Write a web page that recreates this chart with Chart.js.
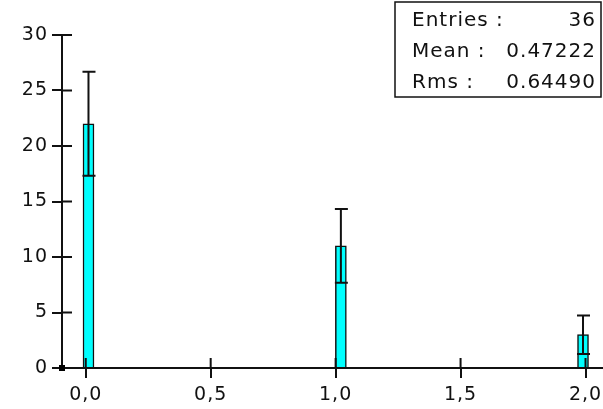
<!DOCTYPE html>
<html>
<head>
<meta charset="utf-8">
<script src="https://cdn.jsdelivr.net/npm/chart.js@4.4.0/dist/chart.umd.min.js"></script>
<style>
  html, body { margin: 0; padding: 0; background: #fff; }
  #wrap { width: 603px; height: 409px; }
</style>
</head>
<body>
<div id="wrap"><canvas id="hist"></canvas></div>
<script>
// histogram bins
const binCenters = [0.011, 1.021, 1.99]
const counts = [22, 11, 3]
const errors = [4.69, 3.32, 1.73]

// axis ranges and ticks
const xMin = -0.095
const xMax = 2.07
const yTicks = [0, 5, 10, 15, 20, 25, 30]

// statistics box
const statLabels = ['Entries :', 'Mean :', 'Rms :']
const statValues = ['36', '0.47222', '0.64490']

const AXIS = '#111'
const FONT = "'DejaVu Sans', sans-serif"

// slightly looser spacing for the tick labels
const wideText = {
  id: 'wideText',
  beforeDraw(chart) {
    chart.ctx.letterSpacing = '1px'
  },
  afterDraw(chart) {
    chart.ctx.letterSpacing = '0px'
  }
}

// tick marks cross the axis line, so draw the inner half too
const innerTicks = {
  id: 'innerTicks',
  afterDraw(chart) {
    const { ctx, scales: { x, y } } = chart
    ctx.save()
    ctx.strokeStyle = AXIS
    ctx.lineWidth = 2
    ctx.beginPath()
    x.ticks.forEach(t => {
      const px = x.getPixelForValue(t.value)
      ctx.moveTo(px, y.bottom)
      ctx.lineTo(px, y.bottom - 10)
    })
    y.ticks.forEach(t => {
      const py = y.getPixelForValue(t.value)
      ctx.moveTo(x.left, py)
      ctx.lineTo(x.left + 10, py)
    })
    ctx.stroke()
    // origin marker
    ctx.fillStyle = '#000'
    ctx.fillRect(x.getPixelForValue(x.min) - 3, y.getPixelForValue(0) - 3, 6, 6)
    ctx.restore()
  }
}

const errorBars = {
  id: 'errorBars',
  afterDatasetsDraw(chart) {
    const { ctx, scales: { x, y } } = chart
    ctx.save()
    ctx.strokeStyle = AXIS
    ctx.lineWidth = 2
    ctx.beginPath()
    binCenters.forEach((c, i) => {
      const px = x.getPixelForValue(c)
      const top = y.getPixelForValue(counts[i] + errors[i])
      const bot = y.getPixelForValue(counts[i] - errors[i])
      ctx.moveTo(px, top)
      ctx.lineTo(px, bot)
      ctx.moveTo(px - 6, top)
      ctx.lineTo(px + 7, top)
      ctx.moveTo(px - 6, bot)
      ctx.lineTo(px + 7, bot)
    })
    ctx.stroke()
    ctx.restore()
  }
}

const statsBox = {
  id: 'statsBox',
  afterDraw(chart) {
    const { ctx } = chart
    ctx.save()
    ctx.letterSpacing = '1px'
    ctx.fillStyle = '#fff'
    ctx.fillRect(395, 2, 206, 95)
    ctx.strokeStyle = AXIS
    ctx.lineWidth = 1.5
    ctx.strokeRect(395, 2, 206, 95)
    ctx.fillStyle = '#111'
    ctx.font = '20px ' + FONT
    ctx.textBaseline = 'middle'
    statLabels.forEach((lab, i) => {
      const ty = 21 + i * 31
      ctx.textAlign = 'left'
      ctx.fillText(lab, 412, ty)
      ctx.textAlign = 'right'
      ctx.fillText(statValues[i], 596, ty)
    })
    ctx.restore()
  }
}

new Chart(document.getElementById('hist'), {
  type: 'bar',
  data: {
    datasets: [{
      data: binCenters.map((c, i) => ({ x: c, y: counts[i] })),
      backgroundColor: '#00ffff',
      borderColor: AXIS,
      borderWidth: 1.5,
      barThickness: 11,
      grouped: false
    }]
  },
  options: {
    responsive: true,
    maintainAspectRatio: false,
    animation: false,
    layout: { padding: { top: 35, right: 0, left: 0, bottom: 0 } },
    plugins: {
      legend: { display: false },
      tooltip: { enabled: false }
    },
    scales: {
      x: {
        type: 'linear',
        min: xMin,
        max: xMax,
        offset: false,
        afterFit: (s) => {
          s.height = 41
          s.paddingLeft = 0
          s.paddingRight = 0
        },
        border: { color: AXIS, width: 2 },
        grid: { offset: false, drawOnChartArea: false, drawTicks: true, tickLength: 10, color: AXIS, lineWidth: 2 },
        ticks: {
          stepSize: 0.5,
          includeBounds: false,
          color: '#111',
          padding: 6,
          maxRotation: 0,
          font: { family: FONT, size: 19 },
          callback: (v) => v.toFixed(1).replace('.', ',')
        }
      },
      y: {
        min: yTicks[0],
        max: yTicks[yTicks.length - 1],
        afterFit: (s) => {
          s.width = 62
          s.paddingTop = 0
          s.paddingBottom = 0
        },
        afterBuildTicks: (s) => { s.ticks = yTicks.map(v => ({ value: v })) },
        border: { color: AXIS, width: 2 },
        grid: { drawOnChartArea: false, drawTicks: true, tickLength: 10, color: AXIS, lineWidth: 2 },
        ticks: {
          color: '#111',
          padding: 4,
          font: { family: FONT, size: 19 }
        }
      }
    }
  },
  plugins: [wideText, innerTicks, errorBars, statsBox]
})
</script>
</body>
</html>
